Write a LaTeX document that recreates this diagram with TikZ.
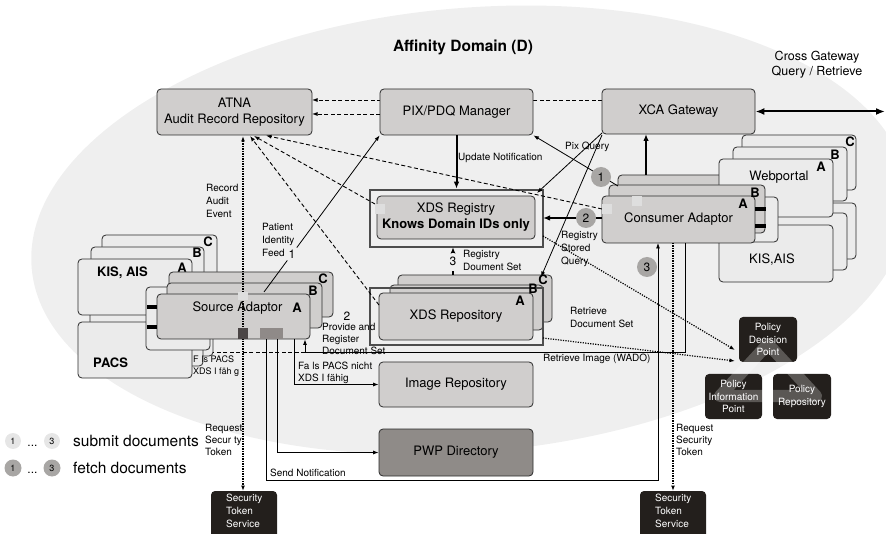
\documentclass[tikz,border=0pt]{standalone}
\usepackage{fontspec}
\setmainfont{TeX Gyre Heros}
\usetikzlibrary{arrows.meta}
\definecolor{domainbg}{HTML}{EFEFEF}
\definecolor{compfill}{HTML}{D0CECD}
\definecolor{compdraw}{HTML}{2B2B2B}
\definecolor{sysfill}{HTML}{EBEBEB}
\definecolor{pwpfill}{HTML}{8F8B88}
\definecolor{darkfill}{HTML}{231F1C}
\definecolor{fetchfill}{HTML}{A8A6A4}
\definecolor{submitfill}{HTML}{E6E6E6}
\definecolor{framecol}{HTML}{4D4D4D}
\definecolor{portlight}{HTML}{DEDEDE}
\definecolor{portdark}{HTML}{4A4545}
\definecolor{portmid}{HTML}{8F8A88}
\pgfdeclarelayer{bg}
\pgfsetlayers{bg,main}
\begin{document}
\begin{tikzpicture}[x=1pt,y=-1pt,
  >={Latex[length=5.5pt,width=4pt]},
  comp/.style={draw=compdraw, fill=compfill, rounded corners=4pt, line width=0.8pt, inner sep=0pt, align=center, font=\fontsize{13}{16}\selectfont},
  sysbox/.style={comp, fill=sysfill},
  framebox/.style={draw=framecol, line width=2.5pt, inner sep=0pt},
  darkbox/.style={fill=darkfill, rounded corners=4pt, inner sep=0pt, text=white, align=center, font=\fontsize{10}{12.5}\selectfont},
  stacklbl/.style={font=\bfseries\fontsize{13}{13}\selectfont, inner sep=0pt},
  lbl/.style={font=\fontsize{10}{13}\selectfont, align=left, inner sep=0pt, anchor=west},
  stslbl/.style={font=\fontsize{10}{13}\selectfont, text=white, align=left, inner sep=0pt, anchor=north west},
  numcirc/.style={circle, inner sep=0pt, font=\fontsize{12}{12}\selectfont},
  fetchcirc/.style={numcirc, fill=fetchfill, minimum size=20pt},
  submitcirc/.style={numcirc, fill=submitfill, minimum size=16pt},
  portsq/.style={inner sep=0pt, minimum width=10pt, minimum height=10pt, fill=portlight},
  dashln/.style={line width=0.9pt, dash pattern=on 4pt off 2.5pt},
  dotln/.style={line width=1.2pt, dash pattern=on 1.2pt off 1.3pt},
  solidln/.style={line width=0.8pt},
  thickln/.style={line width=2pt, -{Latex[length=7pt,width=5.5pt]}},
  barln/.style={line width=4pt}
]
\useasboundingbox (0,0) rectangle (886,534);
% ---------- coordinates ----------
\coordinate (atnaR1) at (312,100);
\coordinate (xcaL1) at (602,100);
\coordinate (atnaR2) at (312,114);
\coordinate (pixL2) at (380,114);
\coordinate (atnaB0) at (243,136);
\coordinate (atnaB1) at (250,136);
\coordinate (atnaB2) at (254,136);
\coordinate (atnaB3) at (266,135.5);
\coordinate (repoL) at (379,305);
\coordinate (regL) at (375,204);
\coordinate (conL) at (602,209);
\coordinate (srcPIF) at (264,292);
\coordinate (conPQ) at (618,186);
\coordinate (conTop) at (646,175);
\coordinate (xcaBot) at (646,134);
\coordinate (xgwEnd) at (885,111.5);
\coordinate (xcaSW1) at (602,133);
\coordinate (xcaSW2) at (602,135);
\coordinate (regNE) at (537,193);
\coordinate (repoNE) at (541,277);
\coordinate (conW2) at (602,218);
\coordinate (regE2) at (543,218);
\coordinate (repoTop) at (453,275);
\coordinate (regBot) at (453,247);
\coordinate (regSE) at (543,236);
\coordinate (repoSE) at (543,338);
\coordinate (pdpIn1) at (735,350);
\coordinate (pdpIn2) at (735,361);
\coordinate (stsLTop) at (243,491);
\coordinate (srcS1) at (266,339);
\coordinate (sendBL) at (266,480);
\coordinate (sendBR) at (658,480);
\coordinate (conS1) at (658,243);
\coordinate (srcS2) at (277,339);
\coordinate (srcS3) at (294,339);
\coordinate (conS2) at (685,243);
\coordinate (wadoJ) at (305,352);
\coordinate (srcS4) at (305,339.5);
\coordinate (pacsR) at (213,352);
\coordinate (conS3) at (673,243);
\coordinate (stsRTop) at (673,491);
\coordinate (barL1a) at (147,307);
\coordinate (barL1b) at (157,307);
\coordinate (barL2a) at (147,327);
\coordinate (barL2b) at (157,327);
\coordinate (barR1a) at (755,209);
\coordinate (barR1b) at (766,209);
\coordinate (barR2a) at (755,226);
\coordinate (barR2b) at (766,226);
% ---------- background ----------
\begin{pgfonlayer}{bg}
\fill[domainbg, rotate around={5:(470,230)}] (470,230) ellipse [x radius=440pt, y radius=222pt];
\draw[dashln, ->] (xcaL1) -- (atnaR1);
\end{pgfonlayer}
% ---------- titles ----------
\node[font=\bfseries\fontsize{15.5}{15.5}\selectfont, inner sep=0pt] (title) at (463,47) {Affinity Domain (D)};
\node[font=\fontsize{12.5}{15}\selectfont, align=center, inner sep=0pt] (xgwlbl) at (817,65) {Cross Gateway\\Query / Retrieve};
% ---------- left systems ----------
\node[sysbox, minimum width=111pt, minimum height=58pt] (pacsC) at (157.5,327) {};
\node[sysbox, minimum width=113pt, minimum height=56pt] (pacsB) at (146.5,338) {};
\node[sysbox, minimum width=114pt, minimum height=56pt] (pacs) at (135,350) {};
\node[sysbox, minimum width=115pt, minimum height=55pt] (kisC) at (159.5,262.5) {};
\node[sysbox, minimum width=113pt, minimum height=55pt] (kisB) at (147.5,274.5) {};
\node[sysbox, minimum width=114pt, minimum height=56pt] (kis) at (135,287) {};
\node[sysbox, minimum width=64pt, minimum height=63pt] (ifL) at (178,318.5) {};
\node[stacklbl, anchor=west] (kisT) at (97,273) {KIS, AIS};
\node[stacklbl, anchor=west] (pacsT) at (93,363) {PACS};
\node[stacklbl] (kisCl) at (208,242) {C};
\node[stacklbl] (kisBl) at (197,253) {B};
\node[stacklbl] (kisAl) at (182,268) {A};
% ---------- source adaptor ----------
\node[comp, minimum width=164pt, minimum height=45pt] (srcC) at (251,294.5) {};
\node[comp, minimum width=155pt, minimum height=45pt] (srcB) at (244.5,305.5) {};
\node[comp, minimum width=153pt, minimum height=45pt] (src) at (233.5,316.5) {};
\node[font=\fontsize{13}{13}\selectfont, inner sep=0pt] (srcT) at (237.5,308) {Source Adaptor};
\node[stacklbl] (srcCl) at (323,279) {C};
\node[stacklbl] (srcBl) at (313,291) {B};
\node[stacklbl] (srcAl) at (297,308) {A};
% ---------- right systems and consumer adaptor ----------
\node[comp, minimum width=142pt, minimum height=47pt] (conC) at (689,198.5) {};
\node[sysbox, minimum width=114pt, minimum height=55pt] (webC) at (799,162.5) {};
\node[sysbox, minimum width=114pt, minimum height=54pt] (webB) at (790,174) {};
\node[sysbox, minimum width=114pt, minimum height=56pt] (kisRC) at (799,231) {};
\node[sysbox, minimum width=114pt, minimum height=57pt] (kisRB) at (790,241.5) {};
\node[sysbox, minimum width=114pt, minimum height=57pt] (kisR) at (776,253.5) {};
\node[sysbox, minimum width=114pt, minimum height=58pt] (web) at (776,188) {};
\node[sysbox, minimum width=38pt, minimum height=45pt] (ifR) at (759,219.5) {};
\node[comp, minimum width=156pt, minimum height=48pt] (conB) at (687,209) {};
\node[comp, minimum width=153pt, minimum height=47pt] (con) at (678.5,219.5) {Consumer Adaptor};
\node[font=\fontsize{13}{13}\selectfont, inner sep=0pt] (webT) at (779,177) {Webportal};
\node[font=\fontsize{13}{13}\selectfont, inner sep=0pt] (kisRT) at (772,260) {KIS,AIS};
\node[stacklbl] (webCl) at (850,142) {C};
\node[stacklbl] (webBl) at (835,155) {B};
\node[stacklbl] (webAl) at (821,167) {A};
\node[stacklbl] (conBl) at (755,193) {B};
\node[stacklbl] (conAl) at (743,204) {A};
% ---------- central components ----------
\node[comp, minimum width=155pt, minimum height=46pt] (atna) at (234.5,112) {ATNA\\Audit Record Repository};
\node[comp, minimum width=153pt, minimum height=46pt] (pix) at (456.5,112) {PIX/PDQ Manager};
\node[comp, minimum width=153pt, minimum height=45pt] (xca) at (678.5,111.5) {XCA Gateway};
\node[framebox, minimum width=173pt, minimum height=57pt] (regframe) at (456.5,218.5) {};
\node[comp, minimum width=158pt, minimum height=43pt] (reg) at (456,217.5) {XDS Registry\\\textbf{Knows Domain IDs only}};
\node[comp, minimum width=154pt, minimum height=47pt] (repoC) at (475,298.5) {};
\node[comp, minimum width=153pt, minimum height=45pt] (repoB) at (466.5,307.5) {};
\node[framebox, minimum width=173pt, minimum height=57pt] (repoframe) at (456.5,316.5) {};
\node[comp, minimum width=154pt, minimum height=47pt] (repo) at (456,316.5) {XDS Repository};
\node[stacklbl] (repoCl) at (543,280) {C};
\node[stacklbl] (repoBl) at (533,289) {B};
\node[stacklbl] (repoAl) at (520,301) {A};
\node[comp, minimum width=154pt, minimum height=45pt] (img) at (456,384.5) {Image Repository};
\node[comp, fill=pwpfill, minimum width=154pt, minimum height=47pt] (pwp) at (456,452.5) {PWP Directory};
% ---------- policy ----------
\node[darkbox, minimum width=58pt, minimum height=45pt] (pdp) at (768,339.5) {Policy\\Decision\\Point};
\node[darkbox, minimum width=57pt, minimum height=45pt] (pip) at (733.5,396.5) {Policy\\Information\\Point};
\node[darkbox, minimum width=58pt, minimum height=45pt] (prep) at (802,396.5) {Policy\\Repository};
\draw[white, opacity=0.25, line width=12pt, line join=round] (768,344) -- (720,396) -- (816,396) -- cycle;
% ---------- security token services ----------
\node[darkbox, minimum width=66pt, minimum height=54pt] (stsL) at (244,518) {};
\node[stslbl] (stsLT) at (226,494) {Security\\Token\\Service};
\node[darkbox, minimum width=66pt, minimum height=54pt] (stsR) at (673,518) {};
\node[stslbl] (stsRT) at (655,494) {Security\\Token\\Service};
% ---------- labels ----------
\node[lbl] (lRecord) at (206,201) {Record\\Audit\\Event};
\node[lbl] (lPIF) at (262,240) {Patient\\Identity\\Feed};
\node[lbl] (lUpd) at (458,158) {Update Notification};
\node[lbl] (lRegDoc) at (463,260.5) {Registry\\Doument Set};
\node[lbl] (lPix) at (565,147) {Pix Query};
\node[lbl] (lRSQ) at (561,249) {Registry\\Stored\\Query};
\node[lbl] (lRDS) at (570,317) {Retrieve\\Document Set};
\node[lbl] (lWADO) at (543,359) {Retrieve Image (WADO)};
\node[lbl, font=\fontsize{10}{12}\selectfont] (lProv) at (322,339) {Provide and\\Register\\Document Set};
\node[lbl, font=\fontsize{10}{12.5}\selectfont] (lFalls) at (298,373) {Fa ls PACS nicht\\XDS I fähig};
\node[lbl, font=\fontsize{9}{12}\selectfont] (lFalls2) at (193,366) {F\,\,ls PACS\\XDS I fäh g};
\node[lbl, font=\fontsize{10}{12}\selectfont] (lReqL) at (205,440) {Request\\Secur ty\\Token};
\node[lbl, font=\fontsize{10}{12}\selectfont] (lReqR) at (676,440) {Request\\Security\\Token};
\node[lbl] (lSend) at (270,473) {Send Notification};
% ---------- connectors ----------
\draw[dashln, ->] (pixL2) -- (atnaR2);
\draw[dashln, ->] (repoL) -- (atnaB1);
\draw[dashln, ->] (regL) -- (atnaB2);
\draw[dashln, ->] (conL) -- (atnaB3);
\draw[dotln, <->] (atnaB0) -- (stsLTop);
\draw[solidln, ->] (srcPIF) -- (pix.south west);
\draw[solidln, ->] (conPQ) -- (pix.south east);
\draw[thickln] (pix.south) -- (regframe.north);
\draw[thickln] (conTop) -- (xcaBot);
\draw[line width=2pt, {Latex[length=9pt,width=7pt]}-{Latex[length=9pt,width=7pt]}] (xca.east) -- (xgwEnd);
\draw[solidln, ->] (xcaSW1) -- (regNE);
\draw[solidln, ->] (xcaSW2) -- (repoNE);
\draw[thickln] (conW2) -- (regE2);
\draw[line width=2pt, dash pattern=on 4pt off 3pt, -{Latex[length=7pt,width=5.5pt]}] (repoTop) -- (regBot);
\draw[dotln, ->] (regSE) -- (pdpIn1);
\draw[dotln, ->] (repoSE) -- (pdpIn2);
\draw[solidln, ->] (srcS1) -- (sendBL) -- (sendBR) -- (conS1);
\draw[solidln, ->] (srcS2) |- (pwp.west);
\draw[solidln, ->] (srcS3) |- (img.west);
\draw[solidln, ->] (conS2) |- (wadoJ) -- (srcS4);
\draw[dashln] (wadoJ) -- (pacsR);
\draw[dotln, ->] (conS3) -- (stsRTop);
\draw[barln] (barL1a) -- (barL1b);
\draw[barln] (barL2a) -- (barL2b);
\draw[barln] (barR1a) -- (barR1b);
\draw[barln] (barR2a) -- (barR2b);
% ---------- ports ----------
\node[portsq] (portReg) at (380,209) {};
\node[portsq] (portCon1) at (637,201) {};
\node[portsq] (portCon2) at (607,209) {};
\node[portsq, minimum height=8pt] (portSrc) at (243,296.5) {};
\node[portsq, fill=portdark, minimum height=11pt] (portSrcD) at (243,333.5) {};
\node[portsq, fill=portmid, minimum width=23pt, minimum height=11pt] (portSrcM) at (271.5,333.5) {};
% ---------- numbered steps ----------
\node[submitcirc, fill=domainbg] (sub1) at (292,254) {1};
\node[submitcirc, fill=domainbg] (sub2) at (347,316) {2};
\node[submitcirc, fill=domainbg] (sub3) at (453,261) {3};
\node[fetchcirc] (fet1) at (601,177) {1};
\node[fetchcirc] (fet2) at (586,218) {2};
\node[fetchcirc] (fet3) at (647,267) {3};
% ---------- legend ----------
\node[submitcirc, font=\fontsize{9}{9}\selectfont] (leg1s) at (13,441) {1};
\node[inner sep=0pt, font=\fontsize{12}{12}\selectfont, anchor=base] (legdots1) at (32.5,446) {...};
\node[submitcirc, font=\fontsize{9}{9}\selectfont] (leg3s) at (52,441) {3};
\node[inner sep=0pt, anchor=west, font=\fontsize{15.5}{15.5}\selectfont] (legsub) at (73,441) {submit documents};
\node[fetchcirc, minimum size=17pt, font=\fontsize{9}{9}\selectfont] (leg1f) at (13,468) {1};
\node[inner sep=0pt, font=\fontsize{12}{12}\selectfont, anchor=base] (legdots2) at (32.5,473) {...};
\node[fetchcirc, minimum size=17pt, font=\fontsize{9}{9}\selectfont] (leg3f) at (52,468) {3};
\node[inner sep=0pt, anchor=west, font=\fontsize{15.5}{15.5}\selectfont] (legfet) at (73,468) {fetch documents};
\end{tikzpicture}
\end{document}
